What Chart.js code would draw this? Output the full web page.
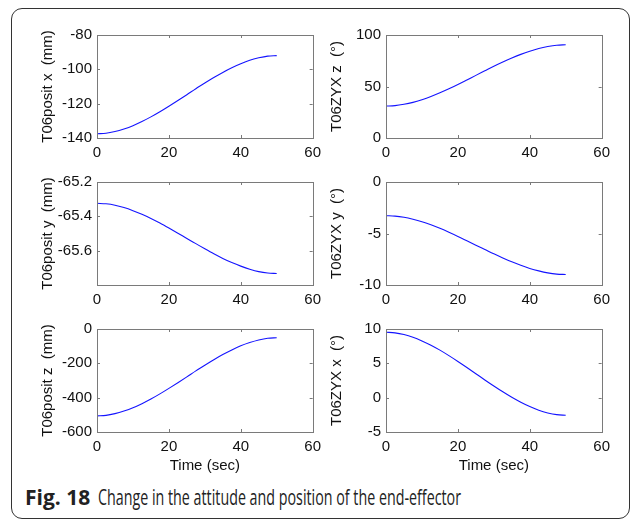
<!DOCTYPE html>
<html>
<head>
<meta charset="utf-8">
<script src="https://cdn.jsdelivr.net/npm/chart.js@4.4.0/dist/chart.umd.min.js"></script>
<style>
  html, body { margin: 0; padding: 0; background: #fff; }
  body { width: 635px; height: 519px; position: relative; overflow: hidden; }
  #frame {
    position: absolute; left: 11px; top: 8px; width: 619px; height: 511px;
    border: 1.5px solid #333; border-radius: 11px; box-sizing: border-box;
  }
  canvas { position: absolute; }
  #caption {
    position: absolute; left: 25px; top: 483px; font-size: 21px; color: #222;
    font-family: "Open Sans", "Noto Sans", sans-serif; white-space: nowrap;
  }
  #caption b { font-weight: 700; }
  #caption span { display: inline-block; transform-origin: left center; transform: scaleX(0.68); margin-left: 8px; }
</style>
</head>
<body>
<div id="frame"></div>
<canvas id="c1" width="300" height="141"></canvas>
<canvas id="c2" width="300" height="141"></canvas>
<canvas id="c3" width="300" height="141"></canvas>
<canvas id="c4" width="300" height="141"></canvas>
<canvas id="c5" width="300" height="161"></canvas>
<canvas id="c6" width="300" height="161"></canvas>
<div id="caption"><b>Fig. 18</b><span>Change in the attitude and position of the end-effector</span></div>
<script>
// time axis (sec)
var times = [0, 2.5, 5, 7.5, 10, 12.5, 15, 17.5, 20, 22.5, 25, 27.5, 30, 32.5, 35, 37.5, 40, 42.5, 45, 47.5, 50];

// values
var positX = [-137.5, -137.2, -136.2, -134.7, -132.8, -130.4, -127.7, -124.7, -121.5, -118.2, -114.8,
  -111.3, -108.0, -104.8, -101.8, -99.1, -96.7, -94.7, -93.3, -92.3, -92.0];
var positY = [-65.324, -65.327, -65.335, -65.349, -65.367, -65.388, -65.412, -65.439, -65.468, -65.498, -65.529,
  -65.559, -65.589, -65.618, -65.645, -65.669, -65.690, -65.708, -65.722, -65.730, -65.733];
var positZ = [-506, -503, -493, -478, -459, -435, -408, -378, -346, -313, -279,
  -244, -211, -179, -149, -122, -98, -79, -64, -54, -51];
var zyxZ = [31.0, 31.4, 32.7, 34.6, 37.2, 40.3, 43.9, 47.8, 51.9, 56.3, 60.8,
  65.2, 69.6, 73.7, 77.6, 81.2, 84.3, 86.9, 88.8, 90.1, 90.5];
var zyxY = [-3.27, -3.31, -3.43, -3.62, -3.86, -4.16, -4.50, -4.88, -5.28, -5.70, -6.13,
  -6.55, -6.97, -7.37, -7.75, -8.09, -8.39, -8.63, -8.82, -8.94, -8.98];
var zyxX = [9.53, 9.44, 9.19, 8.80, 8.27, 7.64, 6.92, 6.12, 5.27, 4.39, 3.49,
  2.58, 1.70, 0.85, 0.05, -0.67, -1.30, -1.83, -2.22, -2.47, -2.56];

var xTicks = [0, 20, 40, 60];

var panels = [
  { id: 'c1', left: 97, top: 33, data: positX, label: 'T06posit x  (mm)', min: -140, max: -80, step: 20, dec: 0 },
  { id: 'c2', left: 386, top: 33, data: zyxZ, label: 'T06ZYX z  (°)', min: 0, max: 100, step: 50, dec: 0 },
  { id: 'c3', left: 97, top: 180, data: positY, label: 'T06posit y  (mm)', min: -65.8, max: -65.2, step: 0.2, dec: 1, hide: -65.8 },
  { id: 'c4', left: 386, top: 180, data: zyxY, label: 'T06ZYX y  (°)', min: -10, max: 0, step: 5, dec: 0 },
  { id: 'c5', left: 97, top: 327, data: positZ, label: 'T06posit z  (mm)', min: -600, max: 0, step: 200, dec: 0, bottom: true },
  { id: 'c6', left: 386, top: 327, data: zyxX, label: 'T06ZYX x  (°)', min: -5, max: 10, step: 5, dec: 0, bottom: true }
];

var font = { family: 'Arial, "Liberation Sans", sans-serif', size: 15 };

// MATLAB style box with inward ticks
var boxPlugin = {
  id: 'box',
  afterDraw: function (chart) {
    var a = chart.chartArea, ctx = chart.ctx;
    var xs = chart.scales.x, ys = chart.scales.y;
    ctx.save();
    ctx.strokeStyle = '#7a7a7a';
    ctx.lineWidth = 1;
    ctx.strokeRect(Math.round(a.left) + 0.5, Math.round(a.top) + 0.5, Math.round(a.right - a.left), Math.round(a.bottom - a.top));
    ctx.beginPath();
    xs.ticks.forEach(function (t) {
      var px = Math.round(xs.getPixelForValue(t.value)) + 0.5;
      ctx.moveTo(px, a.bottom); ctx.lineTo(px, a.bottom - 3);
      ctx.moveTo(px, a.top); ctx.lineTo(px, a.top + 3);
    });
    ys.ticks.forEach(function (t) {
      var py = Math.round(ys.getPixelForValue(t.value)) + 0.5;
      ctx.moveTo(a.left, py); ctx.lineTo(a.left + 3, py);
      ctx.moveTo(a.right, py); ctx.lineTo(a.right - 3, py);
    });
    ctx.stroke();
    ctx.restore();
  }
};

panels.forEach(function (p) {
  var xh = p.bottom ? 44 : 24;
  var el = document.getElementById(p.id);
  el.style.left = (p.left - 70) + 'px';
  el.style.top = (p.top - 12) + 'px';
  new Chart(el, {
    type: 'line',
    data: {
      labels: times,
      datasets: [{
        data: times.map(function (t, i) { return { x: t, y: p.data[i] }; }),
        borderColor: '#1414ff',
        borderWidth: 1.1,
        pointRadius: 0,
        cubicInterpolationMode: 'monotone',
        fill: false
      }]
    },
    options: {
      responsive: false,
      animation: false,
      events: [],
      layout: { padding: { top: 12, right: 14, left: 0, bottom: 0 } },
      plugins: { legend: { display: false }, tooltip: { enabled: false } },
      scales: {
        x: {
          type: 'linear', min: 0, max: 60,
          afterBuildTicks: function (s) { s.ticks = xTicks.map(function (v) { return { value: v }; }); },
          afterFit: function (s) { s.height = xh; },
          grid: { display: false, drawTicks: false },
          border: { display: false },
          ticks: { color: '#111', font: font, padding: 6, maxRotation: 0 },
          title: { display: !!p.bottom, text: 'Time (sec)', color: '#111', font: font, padding: { top: 0, bottom: 1 } }
        },
        y: {
          type: 'linear', min: p.min, max: p.max,
          afterFit: function (s) { s.width = 70; },
          grid: { display: false, drawTicks: false },
          border: { display: false },
          ticks: {
            stepSize: p.step, color: '#111', font: font, padding: 5,
            callback: function (v) {
              if (p.hide !== undefined && Math.abs(v - p.hide) < 1e-6) return '';
              return Number(v).toFixed(p.dec);
            }
          },
          title: { display: true, text: p.label, color: '#111', font: font, padding: { top: 12, bottom: 0 } }
        }
      }
    },
    plugins: [boxPlugin]
  });
});
</script>
</body>
</html>
